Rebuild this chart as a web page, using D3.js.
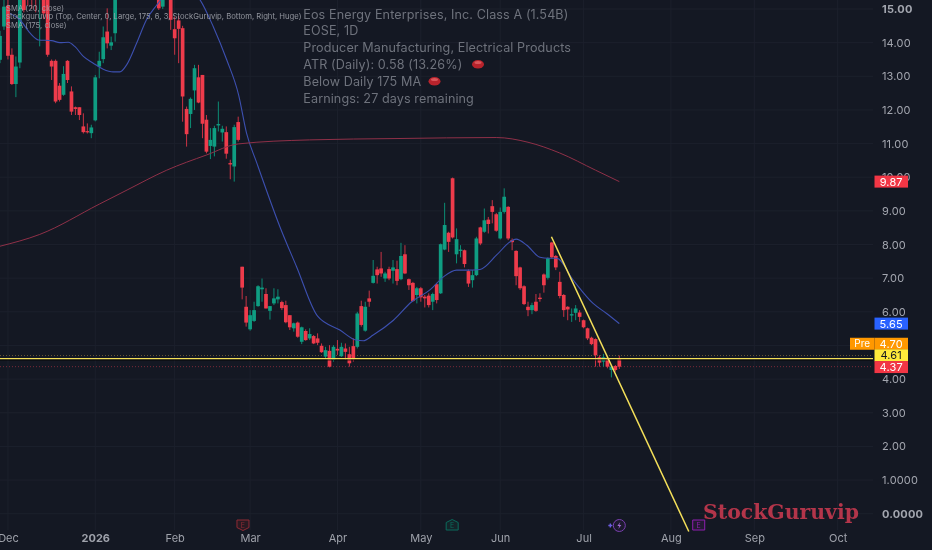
<!DOCTYPE html>
<html><head><meta charset="utf-8">
<script src="https://d3js.org/d3.v7.min.js"></script>
<style>html,body{margin:0;padding:0;background:#141823;overflow:hidden}svg{display:block;filter:blur(.3px)}</style>
</head><body><svg id="c" width="932" height="550"></svg>
<script>
const opens=[13.49,14.48,15.1,13.64,12.77,13.41,15.6,15.9,15.9,15.7,15.4,15.7,15.5,13.46,13.46,12.72,12.45,13.46,12.55,12.08,12.08,11.51,11.37,11.31,11.69,13.29,13.51,14.33,13.91,14.28,15.7,16.2,16.4,16.1,16.5,16.3,16.7,16.4,16.2,16.3,15.6,15.07,16,15.6,14.4,14.66,14.43,12.03,11.88,12.58,12.97,13.04,11.71,10.93,10.91,11.54,11.33,11.34,10.42,10.32,11.64,
7.34,6.15,5.48,5.73,6.17,6.67,6.53,6.03,6.25,6.37,6.29,6.2,5.9,5.51,5.68,5.11,5.43,5.21,5.28,5.21,4.99,4.67,4.84,4.57,4.9,4.68,4.91,4.74,4.98,4.96,6.17,5.44,6.4,6.86,7.26,7.29,6.99,7.27,7.22,7.27,6.97,7.71,6.97,6.86,6.5,6.7,6.45,6.48,6.3,6.82,6.55,7.85,8.35,9.97,7.71,7.81,7.83,7.21,6.94,7.09,8.51,8.38,8.74,9.14,8.9,8.18,8.97,9.12,8.13,7.81,7.32,6.76,6.15,6.05,6.3,6.42,7.11,7.01,8.06,7.66,6.89,6.5,6.15,5.89,5.97,5.98,5.75,5.51,5.23,5.19,4.65,4.52,4.62,4.27,4.39,4.6];
const highs=[14.35,15.3,15.5,13.83,13.59,15.6,15.8,16.1,16.1,15.9,15.7,15.8,15.7,13.5,13.5,12.8,13.3,13.48,12.7,12.1,12.08,11.9,11.6,11.56,13.04,13.73,14.48,15.02,14.18,15.8,16.2,16.6,16.7,16.5,16.8,16.7,17,16.8,16.6,16.6,16,15.8,16.2,16,14.77,14.8,14.5,12.1,12.37,13.34,13.34,13.04,11.85,11.46,11.53,12.25,11.53,11.51,10.52,11.56,11.8,
7.34,6.47,6.05,6.3,6.79,6.99,6.7,6.17,6.7,6.67,6.33,6.33,5.9,5.68,5.71,5.56,5.48,5.51,5.31,5.36,5.06,4.96,5.01,5.01,5.16,5.08,5.06,4.96,5.21,6,6.33,6.3,6.63,7.54,7.34,7.78,7.19,7.34,7.54,7.52,8.05,7.98,6.99,6.89,6.74,6.74,6.5,6.55,6.57,6.86,8.03,9.24,8.38,9.99,8.48,7.98,7.85,7.26,7.24,8.23,8.53,9.07,8.82,9.32,8.94,9.1,9.67,9.14,8.18,7.83,7.34,6.79,6.3,6.27,6.53,6.55,7.14,7.62,8.08,7.69,7.19,6.53,6.17,6.1,6.2,6.05,5.77,5.53,5.26,5.21,4.71,4.75,4.67,4.42,4.42,4.7];
const lows=[13.39,14.38,13.5,12.74,12.38,13.24,14.9,15.1,15,14.9,13.89,14.7,13.58,12.89,12.2,12.25,12.42,12.8,11.85,11.85,11.7,11.3,11.3,11.16,11.66,12.94,13.39,13.83,13.78,14.03,15.4,15.7,15.9,15.6,15.9,15.8,16,15.9,15.6,15.5,14.97,15,15.6,14.38,13.64,13.39,11.65,10.91,11.46,12,12.2,11.16,10.71,10.54,10.62,11.36,11.06,10.55,9.94,9.87,11.06,
6.37,5.56,5.44,5.7,6.15,6.3,6.1,5.77,6.2,6.25,6.05,5.66,5.46,5.41,5.23,5.04,5.14,5.16,5.04,5.01,4.78,4.62,4.35,4.52,4.72,4.66,4.57,4.37,4.52,4.91,5.56,5.41,6.15,6.84,6.84,7.04,6.89,6.94,6.84,6.79,6.94,7.12,6.65,6.3,6.25,6.3,6.13,6.13,6.05,6.25,6.53,7.83,7.78,8.18,7.44,7.62,7.32,6.74,6.72,7.06,7.98,8.35,8.33,8.63,8.38,8.15,8.92,8.13,7.83,6.79,6.65,6.2,5.87,5.93,6,6.3,6.57,6.96,7.59,7.24,6.4,5.85,5.75,5.7,5.75,5.7,5.51,5.16,5.01,4.37,4.37,4.37,4.32,4.05,4.22,4.3];
const closes=[14.2,15.07,13.61,12.77,13.29,15.4,14.97,15.35,15.3,15.4,15.6,14.87,13.64,13.29,12.25,12.3,13.07,12.89,11.95,12.03,11.85,11.34,11.36,11.48,12.97,13.46,14.16,13.98,14.01,15.4,16,16.4,16.1,16.3,16.3,16.6,16.3,16.1,15.9,16,15.02,15.5,15.7,14.68,14.13,14.41,12.4,11.28,12.33,13.24,12.22,11.59,10.76,11.11,11.46,11.58,11.44,10.7,10.38,11.49,11.11,
6.72,5.68,5.9,6.05,6.76,6.72,6.1,6.17,6.4,6.45,6.11,5.69,5.54,5.66,5.26,5.54,5.16,5.34,5.06,5.08,4.8,4.86,4.37,4.96,4.85,4.96,4.81,4.47,4.59,5.95,5.61,6.15,6.3,7.07,7.09,7.14,7.14,6.99,7.32,6.92,7.66,7.14,6.79,6.32,6.7,6.43,6.4,6.2,6.53,6.35,8.01,8.58,8.08,8.21,8.16,7.85,7.42,6.84,7.09,8.18,8.03,8.72,8.61,8.97,8.41,8.97,9.42,8.18,8.07,7.06,6.7,6.23,6.05,6.2,6.03,6.38,6.79,7.59,7.62,7.32,6.47,6.05,6.07,5.93,6.1,5.85,5.54,5.21,5.04,4.71,4.49,4.65,4.37,4.37,4.27,4.37];

const smaBars=[2.5,5,7.6,9.7,13,15.1,17.2,18.9,21,23.5,26,28.5,30.2,31.9,34.4,36.9,39.5,41,45,48,50.4,53.7,57.1,60.1,62.1,64.7,70.5,74.7,80,85.6,89.7,91.5,94,99.1,103.7,108.3,111.7,115,118,120.9,125.1,128.5,130,132.7,136,138.1,140.2,144.4,149.4,152.8,156];
const smaVals=[14.87,14.68,14.28,14.08,14.06,14,14.01,13.88,13.59,13.39,13.21,13.13,13.13,13.34,13.98,14.68,15.12,15.35,15.7,15.6,15.27,14.48,13.49,12.45,11.31,10.42,8.53,7.34,5.87,5.46,5.16,5.14,5.31,5.75,6.3,6.65,7.04,7.24,7.24,7.26,7.69,8.08,8.16,7.98,7.62,7.59,7.59,6.94,6.25,5.95,5.65];
const ma175Bars=[0,10,25,32,42,52,60,78,100,125,133,141,150,156];
const ma175Vals=[7.95,8.3,9.2,9.62,10.21,10.66,10.99,11.11,11.15,11.18,11.04,10.72,10.21,9.87];
const trendBars=[138.9,173.5];
const trendVals=[8.23,-0.53];

const priceTicks=[15,14,13,12,11,10,9,8,7,6,5,4,3,2,1,0];
const priceFmt=["15.00","14.00","13.00","12.00","11.00","10.00","9.00","8.00","7.00","6.00","5.00","4.00","3.00","2.00","1.0000","0.0000"];
const monthBars=[2,24,44,63,85,106,126,147,169,190,211];
const monthLabels=["Dec","2026","Feb","Mar","Apr","May","Jun","Jul","Aug","Sep","Oct"];

const infoLines=["Eos Energy Enterprises, Inc. Class A (1.54B)","EOSE, 1D","Producer Manufacturing, Electrical Products","ATR (Daily): 0.58 (13.26%)","Below Daily 175 MA","Earnings: 27 days remaining"];
const legendLines=["SMA (20, close)","stockguruvip (Top, Center, 0, Large, 175, 6, 3, StockGuruvip, Bottom, Right, Huge)","SMA (175, close)"];
const priceLabels=[{v:9.87,t:"9.87",bg:"#f23645",fg:"#fff",d:0},{v:5.65,t:"5.65",bg:"#2962ff",fg:"#fff",d:0},{v:4.70,t:"4.70",bg:"#ff9800",fg:"#fff",d:-11.8},{v:4.61,t:"4.61",bg:"#ffeb3b",fg:"#131722",d:-3.2},{v:4.37,t:"4.37",bg:"#f23645",fg:"#fff",d:.4}];

const UI='Inter, "Open Sans", sans-serif';
const x=d3.scaleLinear().domain([0,100]).range([0,397]);
const y=d3.scaleLinear().domain([0,15]).range([513.7,9]);
const svg=d3.select("#c").style("font-family",UI);
svg.append("rect").attr("width",932).attr("height",550).attr("fill","#141823");

// grid
const g=svg.append("g").attr("stroke","#1c202c").attr("stroke-width",1);
g.selectAll("line.v").data(monthBars).join("line").attr("x1",d=>x(d)).attr("x2",d=>x(d)).attr("y1",0).attr("y2",530);
g.selectAll("line.h").data(priceTicks).join("line").attr("x1",0).attr("x2",873).attr("y1",d=>y(d)).attr("y2",d=>y(d));

// price lines behind
const pl=svg.append("g");
pl.append("line").attr("x1",0).attr("x2",873).attr("y1",y(4.7)).attr("y2",y(4.7)).attr("stroke","#7d6a3a").attr("stroke-dasharray","1 2").attr("opacity",.8);
pl.append("line").attr("x1",0).attr("x2",873).attr("y1",y(4.37)).attr("y2",y(4.37)).attr("stroke","#7a2a38").attr("stroke-dasharray","1 2");

// candles
const cand=svg.append("g");
const idx=d3.range(opens.length);
const col=i=>closes[i]>=opens[i]?"#0f9d82":"#ee3b4b";
cand.selectAll("line").data(idx).join("line").attr("x1",i=>x(i)).attr("x2",i=>x(i)).attr("y1",i=>y(highs[i])).attr("y2",i=>y(lows[i])).attr("stroke",i=>closes[i]>=opens[i]?"#0c8c74":"#c93345").attr("stroke-width",1);
cand.selectAll("rect").data(idx).join("rect").attr("x",i=>x(i)-1.85).attr("width",3.7).attr("y",i=>y(Math.max(opens[i],closes[i]))).attr("height",i=>Math.max(1.2,Math.abs(y(opens[i])-y(closes[i])))).attr("fill",col);

// averages
const ln=d3.line().x(d=>x(d[0])).y(d=>y(d[1])).curve(d3.curveMonotoneX);
svg.append("path").attr("d",ln(d3.zip(smaBars,smaVals))).attr("fill","none").attr("stroke","#3d50b0").attr("stroke-width",1.1);
svg.append("path").attr("d",ln(d3.zip(ma175Bars,ma175Vals))).attr("fill","none").attr("stroke","#8f3048").attr("stroke-width",1);

// yellow lines
svg.append("line").attr("x1",0).attr("x2",873).attr("y1",y(4.61)+1.3).attr("y2",y(4.61)+1.3).attr("stroke","#000").attr("stroke-width",1);
svg.append("line").attr("x1",0).attr("x2",873).attr("y1",y(4.61)).attr("y2",y(4.61)).attr("stroke","#f4e05a").attr("stroke-width",1.3);
svg.append("line").attr("x1",x(trendBars[0])).attr("x2",x(trendBars[1])).attr("y1",y(trendVals[0])).attr("y2",y(trendVals[1])).attr("stroke","#f4e05a").attr("stroke-width",1.5);

// axes
const yA=d3.axisRight(y).tickValues(priceTicks).tickFormat((d,i)=>priceFmt[i]).tickSize(0).tickPadding(0);
const ya=svg.append("g").attr("transform","translate(882,0)").call(yA);
ya.select(".domain").remove();
ya.selectAll("text").attr("font-size",11).attr("fill","#a3a6af").attr("font-family",UI).attr("font-weight",(d)=>(d===15||d===0)?700:400).attr("letter-spacing",.15);

const xA=d3.axisBottom(x).tickValues(monthBars).tickFormat((d,i)=>monthLabels[i]).tickSize(0).tickPadding(0);
const xa=svg.append("g").attr("transform","translate(0,535)").call(xA);
xa.select(".domain").remove();
xa.selectAll("text").attr("font-size",11).attr("fill","#9fa2ab").attr("font-family",UI).attr("font-weight",d=>d===24?700:400).attr("dy","0.65em");

// price labels
const lb=svg.append("g").selectAll("g").data(priceLabels).join("g").attr("transform",d=>`translate(874.5,${y(d.v)+d.d-6})`);
lb.append("rect").attr("width",33.5).attr("height",12).attr("fill",d=>d.bg);
lb.append("text").attr("x",16.7).attr("y",9.9).attr("text-anchor","middle").attr("font-size",11).attr("letter-spacing",.15).attr("fill",d=>d.fg).text(d=>d.t);
const pre=svg.append("g").attr("transform",`translate(850,${y(4.7)-11.8-6})`);
pre.append("rect").attr("width",24.5).attr("height",12).attr("fill","#ff9800");
pre.append("text").attr("x",12.2).attr("y",9.7).attr("text-anchor","middle").attr("font-size",10).attr("fill","#fff").text("Pre");

// info text
const infoTop=18.5,infoStep=16.9;
svg.append("g").selectAll("text").data(infoLines).join("text").attr("x",303.3).attr("y",(d,i)=>infoTop+i*infoStep).attr("font-size",12.6).attr("fill","#6e727c").attr("letter-spacing",.1).text(d=>d);
[[478,64.2],[434.5,81.2]].forEach(p=>{
 svg.append("ellipse").attr("cx",p[0]).attr("cy",p[1]).attr("rx",6).attr("ry",4.3).attr("fill","#b8232c");
 svg.append("ellipse").attr("cx",p[0]).attr("cy",p[1]-1.6).attr("rx",3.5).attr("ry",1.5).attr("fill","#d9555a");
});

// legend text
svg.append("g").selectAll("text").data(legendLines).join("text").attr("x",6).attr("y",(d,i)=>10.5+i*8.6).attr("font-size",7.7).attr("fill","#a6a9b1").attr("opacity",.85).text(d=>d);

// watermark
svg.append("text").attr("x",703).attr("y",518.5).attr("font-family",'"DejaVu Serif",serif').attr("font-weight",700).attr("font-size",20.4).attr("fill","#b3354a").text("StockGuruvip");

// event markers
function flag(bar,color,fill,shape){
 const m=svg.append("g").attr("transform",`translate(${x(bar)},525)`);
 const p=shape==="down"?"M-6,-5H6V2.5L0,5.5L-6,2.5Z":shape==="up"?"M-6,-2.5L0,-5.5L6,-2.5V5H-6Z":"M-6,-5H6V5H-6Z";
 m.append("path").attr("d",p).attr("fill",fill).attr("stroke",color);
 m.append("text").attr("y",2.5).attr("text-anchor","middle").attr("font-size",7).attr("fill",color).text("E");
}
flag(61.2,"#8f2a35","#2a1a22","down");
flag(113.9,"#0b6b5c","#14252a","up");
flag(176,"#8f1fb0","#241a33","sq");
const lm=svg.append("g").attr("transform",`translate(${x(156)},525.5)`);
lm.append("circle").attr("r",6).attr("fill","#1d1a2e").attr("stroke","#7a3fb0");
lm.append("path").attr("d","M1,-3.5L-2,.5H0L-1,3.5L2,-.5H0Z").attr("fill","#a56ad8");
lm.append("path").attr("d","M-9,-2V2M-11,0H-7").attr("stroke","#6a5bdc").attr("stroke-width",1.4);
</script></body></html>
